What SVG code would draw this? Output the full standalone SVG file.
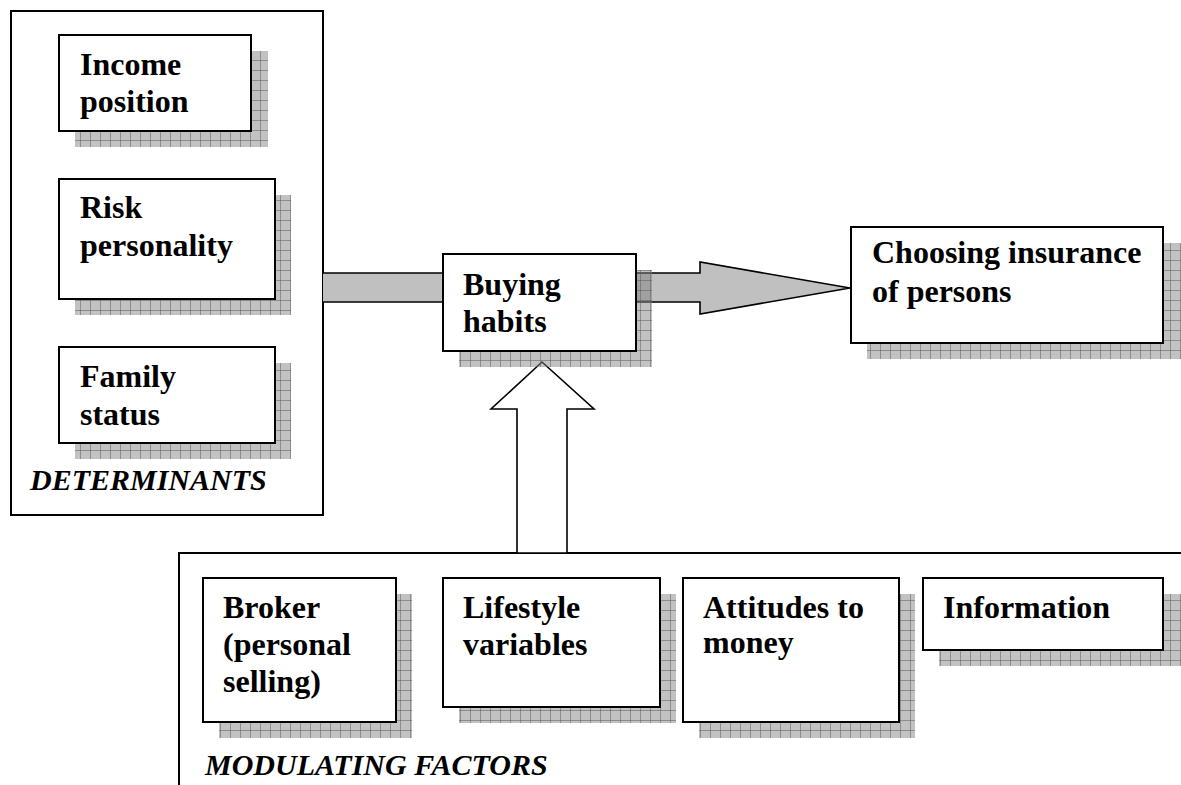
<svg xmlns="http://www.w3.org/2000/svg" width="1181" height="785" viewBox="0 0 1181 785">
<defs>
<pattern id="grid" x="0" y="0" width="10" height="10" patternUnits="userSpaceOnUse">
<rect width="10" height="10" fill="#808080" fill-opacity="0.48"/>
<path d="M0 0.5H10M0.5 0V10" stroke="#5a5a5a" stroke-opacity="0.5" stroke-width="1"/>
</pattern>
<style>
.box{fill:#fff;stroke:#000;stroke-width:2}
.shadow{fill:url(#grid)}
.frame{fill:none;stroke:#000;stroke-width:2}
.t{font-family:"Liberation Serif","Times New Roman",serif;font-weight:bold;font-size:32px;fill:#000}
.ti{font-family:"Liberation Serif","Times New Roman",serif;font-weight:bold;font-style:italic;font-size:30px;fill:#000}
.bar{fill:#c0c0c0;stroke:#000;stroke-width:1.6}
.up{fill:#fff;stroke:#000;stroke-width:1.6}
</style>
</defs>
<rect width="1181" height="785" fill="#fff"/>

<g id="determinants">
<rect class="frame" x="11" y="11" width="312" height="504"/>
<text class="ti" x="30" y="490">DETERMINANTS</text>
</g>

<g id="modulating">
<path class="frame" d="M179 800V553H1190"/>
<text class="ti" x="205" y="775">MODULATING FACTORS</text>
</g>

<g id="connectors">
<rect x="323" y="273" width="120" height="29" fill="#c0c0c0"/>
<path d="M323 273H443M323 302H443" fill="none" stroke="#000" stroke-width="1.6"/>
<polygon class="bar" points="636,273 700,273 700,262 850,288 700,314 700,302 636,302"/>
<polygon class="up" points="517,553 517,409 491,409 542,362 594,409 567,409 567,553"/>
</g>

<g id="shadows">
<rect class="shadow" x="75" y="51" width="193" height="96"/>
<rect class="shadow" x="75" y="195" width="216" height="120"/>
<rect class="shadow" x="75" y="363" width="216" height="96"/>
<rect class="shadow" x="459" y="270" width="193" height="97"/>
<rect class="shadow" x="867" y="243" width="314" height="116"/>
<rect class="shadow" x="219" y="594" width="193" height="144"/>
<rect class="shadow" x="459" y="594" width="217" height="129"/>
<rect class="shadow" x="699" y="594" width="216" height="144"/>
<rect class="shadow" x="939" y="594" width="242" height="72"/>
</g>

<g id="income">
<rect class="box" x="59" y="35" width="192" height="96"/>
<text class="t" x="80" y="75">Income</text>
<text class="t" x="80" y="112">position</text>
</g>

<g id="risk">
<rect class="box" x="59" y="179" width="216" height="120"/>
<text class="t" x="80" y="218">Risk</text>
<text class="t" x="80" y="256">personality</text>
</g>

<g id="family">
<rect class="box" x="59" y="347" width="216" height="96"/>
<text class="t" x="80" y="387">Family</text>
<text class="t" x="80" y="425">status</text>
</g>

<g id="buying">
<rect class="box" x="443" y="254" width="193" height="97"/>
<text class="t" x="463" y="295">Buying</text>
<text class="t" x="463" y="332">habits</text>
</g>

<g id="choosing">
<rect class="box" x="851" y="227" width="312" height="116"/>
<text class="t" x="872" y="263">Choosing insurance</text>
<text class="t" x="872" y="302">of persons</text>
</g>

<g id="broker">
<rect class="box" x="203" y="578" width="193" height="144"/>
<text class="t" x="223" y="618">Broker</text>
<text class="t" x="223" y="655">(personal</text>
<text class="t" x="223" y="692">selling)</text>
</g>

<g id="lifestyle">
<rect class="box" x="443" y="578" width="217" height="129"/>
<text class="t" x="463" y="618">Lifestyle</text>
<text class="t" x="463" y="655">variables</text>
</g>

<g id="attitudes">
<rect class="box" x="683" y="578" width="216" height="144"/>
<text class="t" x="703" y="618">Attitudes to</text>
<text class="t" x="703" y="653">money</text>
</g>

<g id="information">
<rect class="box" x="923" y="578" width="240" height="72"/>
<text class="t" x="943" y="618">Information</text>
</g>
</svg>
